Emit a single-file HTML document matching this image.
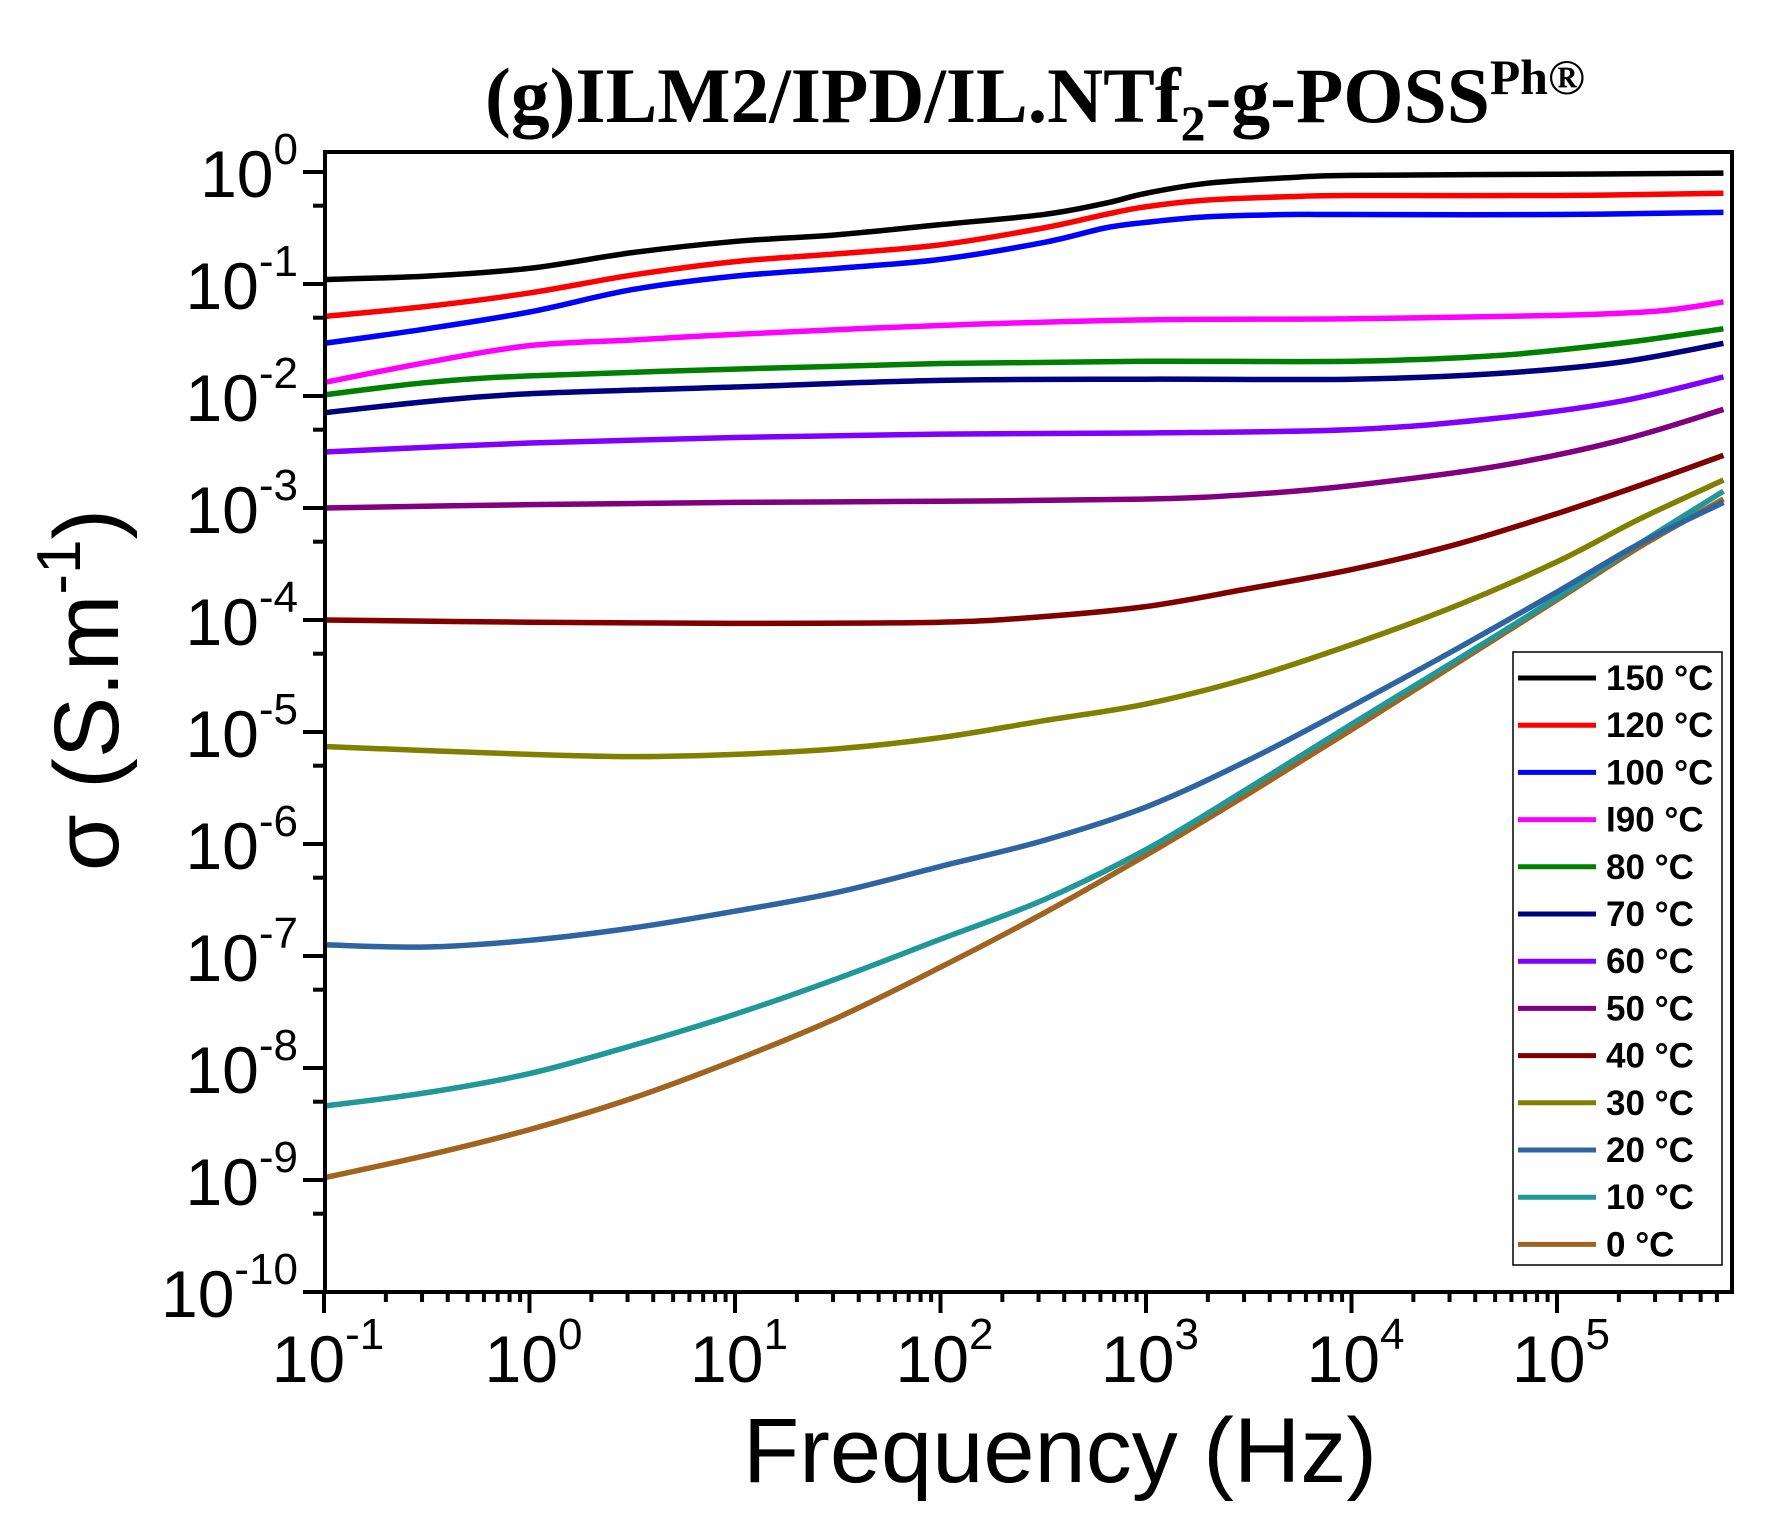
<!DOCTYPE html>
<html><head><meta charset="utf-8"><style>
html,body{margin:0;padding:0;background:#fff;}
svg{display:block;}
</style></head><body>
<svg id="s" xmlns="http://www.w3.org/2000/svg" width="1787" height="1532" viewBox="0 0 1787 1532">
<rect width="1787" height="1532" fill="#fff"/>
<g id="curves" fill="none" stroke-width="5.5" stroke-linejoin="round" stroke-linecap="butt"></g>
<rect x="325" y="152" width="1407" height="1140" fill="none" stroke="#000" stroke-width="4"/>
<g id="ticks" stroke="#000" stroke-width="4"></g>
<g id="labels" font-family="Liberation Sans, Arial, sans-serif" fill="#000"></g>
<text x="485" y="122" font-family="Liberation Serif, serif" font-weight="bold" font-size="78" textLength="1100" lengthAdjust="spacingAndGlyphs">(g)ILM2/IPD/IL.NTf<tspan font-size="50" dy="18">2</tspan><tspan dy="-18">-g-POSS</tspan><tspan font-size="50" dy="-28">Ph®</tspan></text>
<text x="1060" y="1482" text-anchor="middle" font-family="Liberation Sans, Arial, sans-serif" font-size="92">Frequency (Hz)</text>
<text transform="translate(118,690) rotate(-90)" text-anchor="middle" font-family="Liberation Sans, Arial, sans-serif" font-size="92">σ (S.m<tspan font-size="62" dy="-38">-1</tspan><tspan dy="38">)</tspan></text>
<rect x="1513" y="652" width="209" height="613" fill="#fff" stroke="#000" stroke-width="1.5"/>
<g id="legend" font-family="Liberation Sans, Arial, sans-serif" font-weight="bold" font-size="35"></g>
</svg>
<script>
const NS="http://www.w3.org/2000/svg";
const X=lf=>324+(lf+1)*205.5, Y=ls=>172-ls*112;
function el(p,t,a,txt){const e=document.createElementNS(NS,t);for(const k in a)e.setAttribute(k,a[k]);if(txt!=null)e.textContent=txt;p.appendChild(e);return e;}
const S=[
["150 °C","#000000",[[-1,-0.96],[-0.5,-0.93],[0,-0.86],[0.5,-0.72],[1,-0.62],[1.5,-0.56],[2,-0.47],[2.5,-0.38],[2.8,-0.28],[3,-0.19],[3.3,-0.1],[3.7,-0.05],[4,-0.03],[5,-0.02],[5.81,-0.01]]],
["120 °C","#ff0000",[[-1,-1.29],[-0.5,-1.2],[0,-1.08],[0.5,-0.92],[1,-0.8],[1.5,-0.73],[2,-0.65],[2.5,-0.5],[2.8,-0.38],[3,-0.31],[3.3,-0.25],[3.7,-0.22],[4,-0.21],[5,-0.21],[5.81,-0.19]]],
["100 °C","#0000ff",[[-1,-1.53],[-0.5,-1.4],[0,-1.25],[0.5,-1.05],[1,-0.93],[1.5,-0.86],[2,-0.78],[2.5,-0.63],[2.8,-0.5],[3,-0.45],[3.3,-0.4],[3.7,-0.38],[4,-0.38],[5,-0.38],[5.81,-0.36]]],
["I90 °C","#ff00ff",[[-1,-1.88],[-0.5,-1.7],[0,-1.55],[0.5,-1.5],[1,-1.45],[2,-1.37],[3,-1.32],[4,-1.31],[5,-1.28],[5.5,-1.24],[5.81,-1.16]]],
["80 °C","#008000",[[-1,-1.99],[-0.5,-1.88],[0,-1.82],[1,-1.76],[2,-1.71],[3,-1.69],[4,-1.69],[4.7,-1.64],[5.3,-1.53],[5.81,-1.4]]],
["70 °C","#000080",[[-1,-2.15],[-0.5,-2.05],[0,-1.98],[1,-1.92],[2,-1.86],[3,-1.85],[4,-1.85],[4.7,-1.8],[5.3,-1.7],[5.81,-1.53]]],
["60 °C","#8000ff",[[-1,-2.5],[0,-2.42],[1,-2.37],[2,-2.34],[3,-2.33],[4,-2.3],[4.7,-2.2],[5.3,-2.05],[5.81,-1.83]]],
["50 °C","#800080",[[-1,-3.0],[0,-2.97],[1,-2.95],[2,-2.94],[3,-2.92],[3.5,-2.88],[4,-2.8],[4.7,-2.63],[5.3,-2.4],[5.81,-2.12]]],
["40 °C","#800000",[[-1,-4.0],[0,-4.02],[1,-4.03],[2,-4.02],[2.5,-3.97],[3,-3.88],[3.5,-3.72],[4,-3.55],[4.5,-3.33],[5,-3.05],[5.4,-2.8],[5.81,-2.53]]],
["30 °C","#808000",[[-1,-5.13],[0,-5.2],[0.5,-5.22],[1,-5.2],[1.5,-5.15],[2,-5.05],[2.5,-4.9],[3,-4.75],[3.5,-4.52],[4,-4.22],[4.5,-3.88],[5,-3.48],[5.4,-3.1],[5.81,-2.75]]],
["20 °C","#2e64a0",[[-1,-6.9],[-0.5,-6.92],[0,-6.86],[0.5,-6.75],[1,-6.6],[1.5,-6.43],[2,-6.2],[2.5,-5.97],[3,-5.67],[3.5,-5.25],[4,-4.77],[4.5,-4.27],[5,-3.75],[5.4,-3.32],[5.81,-2.95]]],
["10 °C","#20989a",[[-1,-8.34],[-0.5,-8.22],[0,-8.05],[0.5,-7.8],[1,-7.52],[1.5,-7.2],[2,-6.85],[2.5,-6.5],[3,-6.05],[3.5,-5.5],[4,-4.93],[4.5,-4.37],[5,-3.8],[5.4,-3.32],[5.81,-2.85]]],
["0 °C","#a06420",[[-1,-8.98],[-0.5,-8.78],[0,-8.55],[0.5,-8.27],[1,-7.93],[1.5,-7.55],[2,-7.1],[2.5,-6.62],[3,-6.1],[3.5,-5.55],[4,-4.98],[4.5,-4.4],[5,-3.82],[5.4,-3.35],[5.81,-2.92]]]
];
const cg=document.getElementById('curves');
for(let i=S.length-1;i>=0;i--){const [n,c,p]=S[i];const q=p.map(a=>[X(a[0]),Y(a[1])]);
 let d="M"+q[0][0]+","+q[0][1];
 for(let j=0;j<q.length-1;j++){const p0=q[j-1]||q[j],p1=q[j],p2=q[j+1],p3=q[j+2]||q[j+1];
  d+=` C${p1[0]+(p2[0]-p0[0])/6},${p1[1]+(p2[1]-p0[1])/6} ${p2[0]-(p3[0]-p1[0])/6},${p2[1]-(p3[1]-p1[1])/6} ${p2[0]},${p2[1]}`;}
 el(cg,'path',{d:d,stroke:c});}
const tg=document.getElementById('ticks'),lg=document.getElementById('labels');
for(let e=0;e>=-10;e--){const y=Y(e);el(tg,'line',{x1:303,y1:y,x2:325,y2:y});
 if(e>-10){const y2=Y(e-1+Math.log10(5));el(tg,'line',{x1:313,y1:y2,x2:325,y2:y2});}
 const t=el(lg,'text',{x:298,y:y+25,'text-anchor':'end','font-size':66});
 t.appendChild(document.createTextNode("10"));el(t,'tspan',{'font-size':44,dy:-33},String(e));}
for(let k=-1;k<=5;k++){const x=X(k);el(tg,'line',{x1:x,y1:1292,x2:x,y2:1313});
 for(let m=2;m<=9;m++){const xm=X(k+Math.log10(m));if(xm<1730)el(tg,'line',{x1:xm,y1:1292,x2:xm,y2:1302});}
 const t=el(lg,'text',{x:x+4,y:1382,'text-anchor':'middle','font-size':66});
 t.appendChild(document.createTextNode("10"));el(t,'tspan',{'font-size':44,dy:-33},String(k));}
const leg=document.getElementById('legend');
S.forEach((s,i)=>{const y=678+i*47.2;el(leg,'line',{x1:1518,y1:y,x2:1596,y2:y,stroke:s[1],'stroke-width':5});
 el(leg,'text',{x:1606,y:y+12},s[0]);});
</script>
</body></html>
